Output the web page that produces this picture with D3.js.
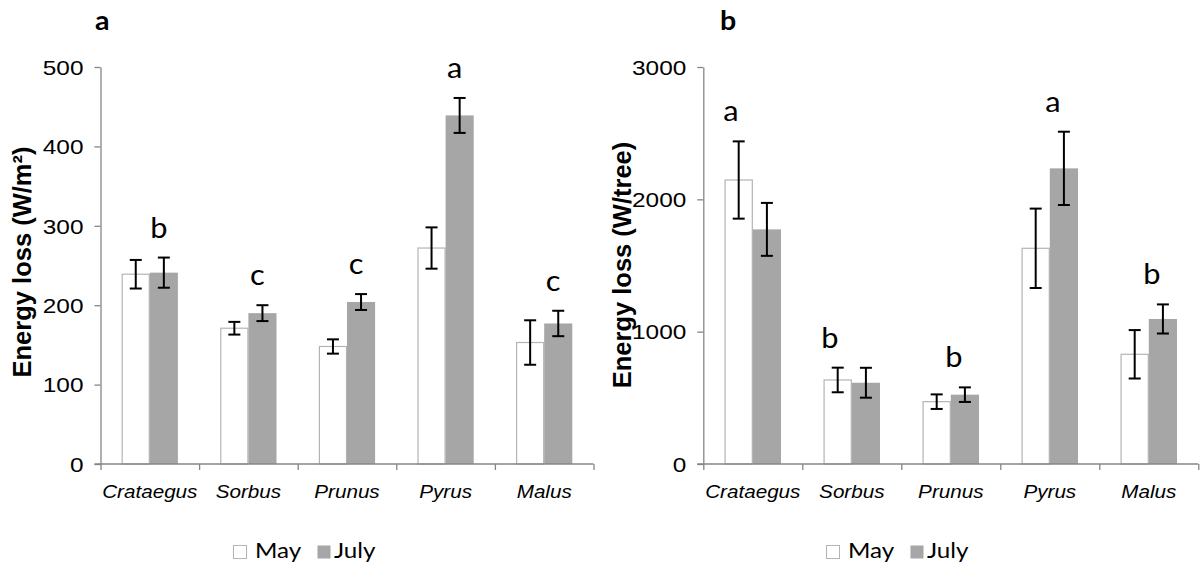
<!DOCTYPE html>
<html>
<head>
<meta charset="utf-8">
<script src="https://cdn.jsdelivr.net/npm/d3@7"></script>
<style>
  html, body { margin: 0; padding: 0; background: #fff; }
  svg { display: block; }
</style>
</head>
<body>
<svg id="chart" width="1200" height="570"></svg>
<script>
// ---------------- data ----------------
const categories = ["Crataegus", "Sorbus", "Prunus", "Pyrus", "Malus"];
const seriesNames = ["May", "July"];

// panel a: energy loss per m²
const areaMay = [239, 171, 148, 272, 153];
const areaMayErr = [18, 8, 9, 26, 28];
const areaJuly = [241, 190, 204, 439, 177];
const areaJulyErr = [19, 10, 10, 22, 16];
const areaLetters = ["b", "c", "c", "a", "c"];
const areaTicks = [0, 100, 200, 300, 400, 500];

// panel b: energy loss per tree
const treeMay = [2146, 635, 471, 1630, 829];
const treeMayErr = [292, 93, 55, 300, 183];
const treeJuly = [1773, 614, 524, 2234, 1096];
const treeJulyErr = [200, 113, 55, 277, 110];
const treeLetters = ["a", "b", "b", "a", "b"];
const treeTicks = [0, 1000, 2000, 3000];

// ---------------- style ----------------
const axisColor = "#868686";
const julyFill = "#a6a6a6";
const mayStroke = "#b4b4b4";
const sansFont = "'Liberation Sans', Arial, sans-serif";
const calFont = "Lato, 'Open Sans', sans-serif";

const svg = d3.select("#chart");

function drawPanel(opt) {
  const g = svg.append("g");
  const y = d3.scaleLinear().domain([0, opt.ticks[opt.ticks.length - 1]]).range([464, 67]);
  const x = d3.scaleBand().domain(categories).range([opt.x0, opt.x1]).padding(0);
  const bw = x.bandwidth();
  const xs = d3.scaleBand().domain(seriesNames).range([bw * 0.215, bw * 0.785]).padding(0);

  const rows = categories.map((c, i) => ({
    cat: c,
    vals: [
      { s: "May", v: opt.may[i], e: opt.mayErr[i] },
      { s: "July", v: opt.july[i], e: opt.julyErr[i] }
    ],
    letter: opt.letters[i]
  }));

  // bars
  const grp = g.selectAll("g.grp").data(rows).join("g")
    .attr("class", "grp")
    .attr("transform", d => `translate(${x(d.cat)},0)`);

  grp.selectAll("rect").data(d => d.vals).join("rect")
    .attr("x", d => xs(d.s) + (d.s === "May" ? 0.5 : 0))
    .attr("y", d => y(d.v))
    .attr("width", d => xs.bandwidth() - (d.s === "May" ? 1 : 0))
    .attr("height", d => y(0) - y(d.v))
    .attr("fill", d => d.s === "May" ? "#fff" : julyFill)
    .attr("stroke", d => d.s === "May" ? mayStroke : "none")
    .attr("stroke-width", 1.2);

  // error bars
  const eb = grp.selectAll("g.eb").data(d => d.vals).join("g").attr("class", "eb");
  const cx = d => xs(d.s) + xs.bandwidth() / 2;
  eb.append("line")
    .attr("x1", cx).attr("x2", cx)
    .attr("y1", d => y(d.v + d.e)).attr("y2", d => y(d.v - d.e))
    .attr("stroke", "#000").attr("stroke-width", 2);
  eb.append("line")
    .attr("x1", d => cx(d) - 6).attr("x2", d => cx(d) + 6)
    .attr("y1", d => y(d.v + d.e)).attr("y2", d => y(d.v + d.e))
    .attr("stroke", "#000").attr("stroke-width", 2);
  eb.append("line")
    .attr("x1", d => cx(d) - 6).attr("x2", d => cx(d) + 6)
    .attr("y1", d => y(d.v - d.e)).attr("y2", d => y(d.v - d.e))
    .attr("stroke", "#000").attr("stroke-width", 2);

  // significance letters
  grp.append("text")
    .attr("transform", d => {
      const topMay = d.vals[0].v + d.vals[0].e;
      const topJul = d.vals[1].v + d.vals[1].e;
      const dx = topMay > topJul ? -22 : opt.letterDx;
      return `translate(${bw / 2 + dx},${y(Math.max(topMay, topJul)) - 20}) scale(1.1,1)`;
    })
    .attr("text-anchor", "middle")
    .attr("font-family", calFont)
    .attr("font-size", 28)
    .attr("fill", "#000")
    .text(d => d.letter);

  // y axis
  const ya = g.append("g")
    .attr("transform", `translate(${opt.x0},0)`)
    .call(d3.axisLeft(y).tickValues(opt.ticks).tickSize(6).tickSizeOuter(0).tickFormat(d3.format("d")));
  ya.select(".domain").attr("stroke", axisColor).attr("stroke-width", 1.3);
  ya.selectAll(".tick line").attr("stroke", axisColor).attr("stroke-width", 1.3);
  ya.selectAll(".tick text")
    .attr("x", null)
    .attr("dy", "0.36em")
    .attr("transform", `translate(-17,0) scale(1.22,1)`)
    .attr("font-family", sansFont)
    .attr("font-size", 20)
    .attr("fill", "#000");

  // x axis: boundary ticks
  const xb = d3.scaleLinear().domain([0, categories.length]).range([opt.x0, opt.x1]);
  const xa = g.append("g")
    .attr("transform", `translate(0,464)`)
    .call(d3.axisBottom(xb).tickValues(d3.range(categories.length + 1)).tickSize(6).tickSizeOuter(0).tickFormat(""));
  xa.select(".domain").remove();
  xa.selectAll(".tick line").attr("stroke", axisColor).attr("stroke-width", 1.3);
  g.append("line")
    .attr("x1", opt.x0 - 6).attr("x2", opt.x1)
    .attr("y1", 464).attr("y2", 464)
    .attr("stroke", axisColor).attr("stroke-width", 1.3);

  // x axis labels
  const xl = g.append("g")
    .attr("transform", `translate(0,464)`)
    .call(d3.axisBottom(x).tickSize(0).tickSizeOuter(0));
  xl.select(".domain").remove();
  xl.selectAll(".tick text")
    .attr("y", null).attr("dy", null)
    .attr("transform", `translate(0,33.5) scale(1.18,1)`)
    .attr("font-family", sansFont)
    .attr("font-style", "italic")
    .attr("font-size", 17.5)
    .attr("fill", "#000");

  // y axis title
  g.append("text")
    .attr("transform", `translate(${opt.titleX},${opt.titleY}) rotate(-90)`)
    .attr("text-anchor", "middle")
    .attr("font-family", sansFont)
    .attr("font-weight", "bold")
    .attr("font-size", 25.5)
    .attr("fill", "#000")
    .text(opt.title);

  // panel label
  g.append("text")
    .attr("transform", `translate(${opt.labelX},30) scale(1.1,1)`)
    .attr("font-family", calFont)
    .attr("font-weight", "bold")
    .attr("font-size", 26)
    .attr("fill", "#000")
    .text(opt.label);

  // legend
  const lg = g.append("g").attr("transform", `translate(${opt.legendX},558)`);
  const items = lg.selectAll("g").data(seriesNames).join("g")
    .attr("transform", (d, i) => `translate(${i * 84},0)`);
  items.append("rect")
    .attr("x", 0.5).attr("y", -12.5).attr("width", 13).attr("height", 13)
    .attr("fill", d => d === "May" ? "#fff" : julyFill)
    .attr("stroke", d => d === "May" ? mayStroke : "none");
  items.append("text")
    .attr("transform", d => `translate(${d === "May" ? 22 : 17},0) scale(1.15,1)`)
    .attr("font-family", calFont)
    .attr("font-size", 21)
    .attr("fill", "#000")
    .text(d => d);
}

drawPanel({
  x0: 100.5, x1: 593.5,
  may: areaMay, mayErr: areaMayErr, july: areaJuly, julyErr: areaJulyErr,
  letters: areaLetters, ticks: areaTicks, letterDx: 9,
  title: "Energy loss (W/m²)", titleX: 31, titleY: 262,
  label: "a", labelX: 95, legendX: 233
});

drawPanel({
  x0: 703.3, x1: 1198.3,
  may: treeMay, mayErr: treeMayErr, july: treeJuly, julyErr: treeJulyErr,
  letters: treeLetters, ticks: treeTicks, letterDx: 3,
  title: "Energy loss (W/tree)", titleX: 631, titleY: 265,
  label: "b", labelX: 720, legendX: 826
});
</script>
</body>
</html>
